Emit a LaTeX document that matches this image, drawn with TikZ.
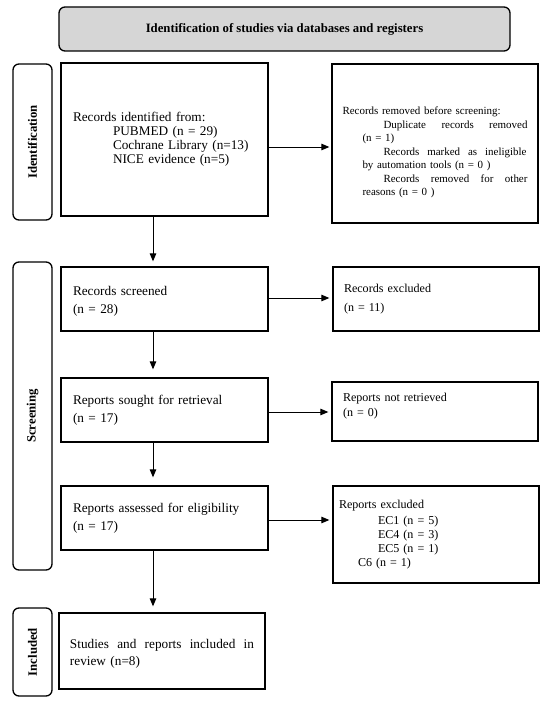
\documentclass[tikz,border=0pt]{standalone}
\usepackage{fontspec}
\setmainfont{Liberation Serif}
\usetikzlibrary{arrows.meta}
\begin{document}
\begin{tikzpicture}[x=1bp,y=-1bp,
  box/.style={draw, line width=1.3bp, align=left, inner ysep=0pt},
  lbox/.style={box, font=\fontsize{13.3}{14}\selectfont},
  rbox/.style={box, font=\fontsize{12.1}{14}\selectfont},
  lab/.style={draw, line width=1.3bp, rounded corners=6bp, inner sep=0pt},
  labtxt/.style={rotate=90, font=\fontsize{12.8}{14}\selectfont\bfseries},
  arr/.style={line width=1bp, -{Triangle[length=8bp,width=6.5bp]}}
]
\useasboundingbox (0,0) rectangle (550,702);
% title
\node[lab, fill=black!16, minimum width=451bp, minimum height=44bp,
      font=\fontsize{12.8}{14}\selectfont\bfseries] (title) at (284.5,29)
      {Identification of studies via databases and registers};
% side labels
\node[lab, minimum width=39bp, minimum height=156bp] (idlab) at (32.5,142) {};
\node[labtxt] (idlabt) at (idlab.center) {Identification};
\node[lab, minimum width=39bp, minimum height=308bp] (scrlab) at (32.5,416) {};
\node[labtxt] (scrlabt) at (scrlab.center) {Screening};
\node[lab, minimum width=39bp, minimum height=88bp] (inclab) at (32.5,652) {};
\node[labtxt] (inclabt) at (inclab.center) {Included};
% boxes
\node[lbox, inner xsep=12bp, text width=183bp, minimum height=153bp] (ident) at (164.5,139.5)
 {Records identified from:\\
  \hspace*{40bp}PUBMED (n = 29)\\
  \hspace*{40bp}Cochrane Library (n=13)\\
  \hspace*{40bp}NICE evidence (n=5)};
\node[box, font=\fontsize{11}{13.5}\selectfont, inner xsep=10.5bp, text width=185bp, minimum height=159bp] (removed) at (435,143.5)
 {\rule{0pt}{26bp}Records removed before screening:\\
  \hspace*{41bp}\hbox to 144bp{Duplicate\hfill records\hfill removed}\\
  \hspace*{20bp}(n = 1)\\
  \hspace*{41bp}\hbox to 143bp{Records\hfill marked\hfill as\hfill ineligible}\\
  \hspace*{20bp}by automation tools (n = 0 )\\
  \hspace*{41bp}\hbox to 144bp{Records\hfill removed\hfill for\hfill other}\\
  \hspace*{20bp}reasons (n = 0 )};
\node[lbox, inner xsep=12bp, text width=183bp, minimum height=64bp] (screened) at (164.5,299)
 {\rule{0pt}{14bp}Records screened\\[4bp](n = 28)};
\node[rbox, inner xsep=11bp, text width=184bp, minimum height=64bp] (excl) at (436,299)
 {Records excluded\\[5bp](n = 11)};
\node[lbox, inner xsep=12bp, text width=183bp, minimum height=64bp] (sought) at (164.5,410)
 {Reports sought for retrieval\\[4bp](n = 17)};
\node[rbox, inner xsep=11bp, text width=184bp, minimum height=59bp] (notret) at (435,411.5)
 {Reports not retrieved\\[1bp](n = 0)\\\mbox{}};
\node[lbox, inner xsep=12bp, text width=183bp, minimum height=64bp] (assessed) at (164.5,518)
 {Reports assessed for eligibility\\[4bp](n = 17)};
\node[rbox, inner xsep=6bp, text width=194bp, minimum height=97bp] (repexcl) at (436,534.5)
 {Reports excluded\\[2bp]
  \hspace*{39bp}EC1 (n = 5)\\
  \hspace*{39bp}EC4 (n = 3)\\
  \hspace*{39bp}EC5 (n = 1)\\
  \hspace*{19bp}C6 (n = 1)};
\node[lbox, inner xsep=11bp, text width=184bp, minimum height=76bp] (included) at (162,651)
 {\rule{0pt}{15bp}\hbox to 184bp{Studies\hfill and\hfill reports\hfill included\hfill in}\\[3bp]review (n=8)};
% connectors
\draw[arr, shorten >=2bp] ([yshift=-7.5bp]ident.east) -- ([yshift=-7.5bp]ident.east -| removed.west);
\draw[arr, shorten >=3bp] ([yshift=1bp]screened.east) -- ([yshift=1bp]screened.east -| excl.west);
\draw[arr, shorten >=3bp] ([yshift=-2bp]sought.east) -- ([yshift=-2bp]sought.east -| notret.west);
\draw[arr, shorten >=3bp] ([yshift=-2bp]assessed.east) -- ([yshift=-2bp]assessed.east -| repexcl.west);
\draw[arr, shorten >=5bp] ([xshift=-11.5bp]ident.south) -- ([xshift=-11.5bp]ident.south |- screened.north);
\draw[arr, shorten >=8bp] ([xshift=-11.5bp]screened.south) -- ([xshift=-11.5bp]screened.south |- sought.north);
\draw[arr, shorten >=8bp] ([xshift=-11.5bp]sought.south) -- ([xshift=-11.5bp]sought.south |- assessed.north);
\draw[arr, shorten >=6bp] ([xshift=-11.5bp]assessed.south) -- ([xshift=-11.5bp]assessed.south |- included.north);
\end{tikzpicture}
\end{document}
